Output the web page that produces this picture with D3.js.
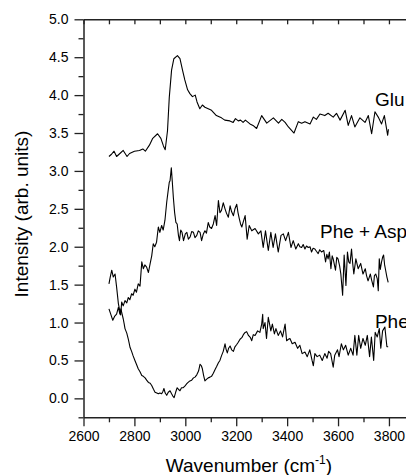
<!DOCTYPE html>
<html><head><meta charset="utf-8">
<script src="https://cdn.jsdelivr.net/npm/d3@7"></script>
<style>
html,body{margin:0;padding:0;background:#fff;overflow:hidden}
text{font-family:"Liberation Sans",Arial,Helvetica,sans-serif;fill:#000}
</style></head>
<body><svg id="c" width="406" height="475"></svg>
<script>
const xMajorTicks=[2600,2800,3000,3200,3400,3600,3800];
const xMinorTicks=[2700,2900,3100,3300,3500,3700,3900];
const yMajorTicks=[0,0.5,1,1.5,2,2.5,3,3.5,4,4.5,5];
const yMinorTicks=[-0.25,0.25,0.75,1.25,1.75,2.25,2.75,3.25,3.75,4.25,4.75];

const glu=[[2700,3.19],[2710,3.22],[2720,3.26],[2730,3.19],[2743,3.23],[2756,3.27],[2771,3.19],[2781,3.23],[2800,3.26],[2820,3.27],[2833,3.29],[2843,3.26],[2859,3.34],[2872,3.43],[2891,3.49],[2904,3.43],[2914,3.33],[2921,3.28],[2930,3.53],[2937,3.97],[2946,4.33],[2955,4.48],[2969,4.52],[2979,4.48],[2989,4.33],[2998,4.20],[3009,4.07],[3018,4.02],[3028,3.98],[3039,4.00],[3046,3.91],[3057,3.82],[3067,3.87],[3077,3.84],[3090,3.82],[3103,3.80],[3122,3.73],[3142,3.70],[3155,3.67],[3175,3.66],[3188,3.64],[3197,3.69],[3208,3.66],[3217,3.67],[3227,3.64],[3236,3.67],[3254,3.62],[3266,3.60],[3280,3.56],[3300,3.73],[3320,3.63],[3346,3.70],[3366,3.63],[3379,3.68],[3392,3.64],[3405,3.58],[3427,3.50],[3444,3.65],[3457,3.63],[3470,3.65],[3490,3.62],[3503,3.71],[3515,3.68],[3529,3.75],[3548,3.73],[3561,3.76],[3581,3.71],[3594,3.76],[3608,3.67],[3628,3.80],[3640,3.60],[3653,3.73],[3666,3.58],[3686,3.70],[3706,3.64],[3719,3.73],[3732,3.49],[3745,3.78],[3758,3.71],[3771,3.62],[3782,3.73],[3795,3.47],[3798,3.55]];

const pheAsp=[[2700,1.51],[2705,1.60],[2711,1.69],[2717,1.60],[2724,1.64],[2730,1.47],[2737,1.25],[2741,1.18],[2746,1.10],[2750,1.27],[2756,1.22],[2763,1.29],[2770,1.26],[2776,1.33],[2782,1.30],[2789,1.38],[2795,1.36],[2802,1.44],[2808,1.40],[2815,1.51],[2822,1.48],[2829,1.80],[2835,1.71],[2841,1.76],[2848,1.73],[2855,1.66],[2862,1.78],[2868,1.88],[2874,2.04],[2880,2.00],[2887,2.06],[2894,2.26],[2900,2.19],[2907,2.28],[2913,2.22],[2920,2.35],[2927,2.59],[2933,2.75],[2937,2.85],[2940,2.87],[2945,3.04],[2949,2.85],[2953,2.65],[2958,2.45],[2963,2.32],[2968,2.30],[2973,2.15],[2977,2.08],[2982,2.22],[2987,2.19],[2993,2.08],[3000,2.17],[3006,2.19],[3012,2.10],[3019,2.13],[3025,2.20],[3032,2.19],[3038,2.12],[3045,2.15],[3051,2.21],[3058,2.19],[3064,2.08],[3070,2.16],[3077,2.21],[3083,2.18],[3090,2.32],[3096,2.26],[3103,2.24],[3110,2.30],[3117,2.41],[3123,2.28],[3130,2.61],[3136,2.45],[3142,2.48],[3149,2.58],[3156,2.50],[3162,2.44],[3169,2.39],[3176,2.54],[3182,2.46],[3189,2.41],[3195,2.50],[3202,2.56],[3207,2.45],[3212,2.37],[3217,2.30],[3222,2.26],[3228,2.33],[3235,2.41],[3243,2.10],[3251,2.28],[3261,2.21],[3274,2.24],[3287,2.17],[3297,2.21],[3306,1.99],[3315,2.21],[3326,1.95],[3336,2.19],[3345,1.99],[3354,2.17],[3365,1.93],[3376,2.15],[3385,2.17],[3394,2.08],[3405,2.19],[3415,1.99],[3424,2.08],[3434,1.97],[3444,2.04],[3450,2.00],[3457,1.99],[3463,2.03],[3470,1.97],[3476,2.01],[3483,1.99],[3490,2.00],[3496,1.93],[3502,1.98],[3509,1.97],[3515,1.94],[3522,1.91],[3528,1.96],[3535,1.93],[3544,1.95],[3551,1.80],[3556,1.90],[3561,1.84],[3566,1.93],[3572,1.71],[3577,1.88],[3581,1.84],[3590,1.69],[3595,1.86],[3600,1.84],[3606,1.75],[3611,1.64],[3618,1.36],[3624,1.89],[3631,1.49],[3637,1.93],[3642,1.80],[3647,1.78],[3653,1.97],[3657,1.80],[3662,1.64],[3670,1.84],[3679,1.71],[3689,1.78],[3698,1.64],[3707,1.71],[3712,1.62],[3718,1.55],[3727,1.64],[3732,1.56],[3739,1.47],[3743,1.62],[3748,1.64],[3754,1.58],[3758,1.42],[3762,1.84],[3766,1.70],[3771,1.80],[3775,1.86],[3779,1.89],[3783,1.76],[3787,1.69],[3792,1.60],[3797,1.53]];

const phe=[[2700,1.18],[2707,1.11],[2715,1.03],[2722,1.08],[2730,1.11],[2737,1.20],[2743,1.11],[2747,1.18],[2751,1.12],[2756,1.05],[2760,0.98],[2763,0.92],[2770,0.86],[2776,0.78],[2780,0.72],[2783,0.67],[2789,0.62],[2795,0.56],[2802,0.50],[2808,0.45],[2815,0.39],[2822,0.35],[2829,0.30],[2835,0.29],[2842,0.27],[2848,0.24],[2855,0.21],[2862,0.20],[2868,0.17],[2875,0.12],[2881,0.08],[2888,0.07],[2894,0.06],[2900,0.07],[2907,0.06],[2912,0.09],[2916,0.13],[2921,0.07],[2927,0.04],[2933,0.08],[2940,0.10],[2946,0.06],[2951,0.03],[2956,0.01],[2962,0.08],[2968,0.14],[2973,0.12],[2979,0.10],[2985,0.14],[2992,0.14],[2998,0.16],[3005,0.19],[3011,0.21],[3018,0.23],[3025,0.24],[3032,0.27],[3038,0.28],[3045,0.31],[3052,0.36],[3058,0.45],[3063,0.43],[3067,0.39],[3072,0.30],[3077,0.23],[3083,0.25],[3090,0.27],[3097,0.28],[3103,0.29],[3110,0.33],[3117,0.38],[3123,0.42],[3130,0.47],[3136,0.50],[3142,0.56],[3149,0.62],[3156,0.72],[3160,0.65],[3165,0.60],[3170,0.66],[3176,0.69],[3182,0.64],[3189,0.62],[3195,0.68],[3202,0.71],[3208,0.74],[3215,0.78],[3222,0.80],[3228,0.84],[3235,0.87],[3241,0.88],[3248,0.83],[3256,0.80],[3261,0.76],[3267,0.84],[3274,0.83],[3284,0.89],[3293,0.87],[3300,0.98],[3304,1.11],[3306,0.92],[3313,1.00],[3319,0.79],[3326,1.07],[3336,0.89],[3342,0.98],[3350,0.85],[3356,0.92],[3365,0.83],[3374,0.89],[3382,0.81],[3392,0.98],[3398,0.76],[3405,0.78],[3411,0.79],[3420,0.72],[3431,0.74],[3441,0.66],[3450,0.70],[3459,0.59],[3470,0.61],[3479,0.55],[3489,0.64],[3498,0.50],[3503,0.43],[3509,0.59],[3518,0.55],[3528,0.57],[3538,0.50],[3548,0.59],[3557,0.53],[3563,0.62],[3571,0.59],[3581,0.41],[3587,0.57],[3598,0.64],[3604,0.55],[3613,0.72],[3621,0.64],[3630,0.70],[3640,0.57],[3650,0.66],[3659,0.57],[3666,0.83],[3674,0.57],[3681,0.83],[3689,0.66],[3698,0.79],[3707,0.70],[3715,0.83],[3724,0.55],[3731,0.81],[3740,0.50],[3746,0.87],[3754,0.81],[3762,0.92],[3768,0.66],[3775,0.89],[3784,0.94],[3792,0.68],[3797,0.68]];

const seriesNames=["Glu","Phe + Asp","Phe"];
const seriesLabelAt=[[3745,3.86],[3529,2.12],[3745,0.93]];

const svg=d3.select("#c");
const L=83.5,T=19.3,B=417.3,R=414.4;
const x=d3.scaleLinear().domain([2600,3900]).range([L,R]);
const y=d3.scaleLinear().domain([-0.25,5]).range([B,T]);
const axisColor="#222";

function style(g){g.selectAll("path,line").attr("stroke",axisColor).attr("stroke-width",1.3);g.select(".domain").attr("stroke-width",1.5);}

// bottom axis
const gb=svg.append("g").attr("transform",`translate(0,${B})`);
gb.call(d3.axisBottom(x).tickValues(xMajorTicks).tickSize(9).tickSizeOuter(0).tickPadding(5).tickFormat(d3.format("d")));
gb.selectAll("text").attr("font-size",14);
style(gb);
const gbm=svg.append("g").attr("transform",`translate(0,${B})`);
gbm.call(d3.axisBottom(x).tickValues(xMinorTicks).tickSize(5).tickSizeOuter(0).tickFormat(""));
gbm.select(".domain").remove();style(gbm);

// top axis (inward ticks)
const gt=svg.append("g").attr("transform",`translate(0,${T})`);
gt.call(d3.axisTop(x).tickValues(xMajorTicks.concat(xMinorTicks)).tickSize(-5).tickSizeOuter(0).tickFormat(""));
style(gt);

// left axis
const gl=svg.append("g").attr("transform",`translate(${L},0)`);
gl.call(d3.axisLeft(y).tickValues(yMajorTicks).tickSize(9).tickSizeOuter(0).tickPadding(6).tickFormat(d3.format(".1f")));
gl.selectAll("text").attr("font-size",14);
style(gl);
const glm=svg.append("g").attr("transform",`translate(${L},0)`);
glm.call(d3.axisLeft(y).tickValues(yMinorTicks).tickSize(5).tickSizeOuter(0).tickFormat(""));
glm.select(".domain").remove();style(glm);

// lines
const line=d3.line().x(d=>x(d[0])).y(d=>y(d[1]));
[glu,pheAsp,phe].forEach(s=>{
  svg.append("path").datum(s).attr("d",line).attr("fill","none").attr("stroke","#000").attr("stroke-width",1.1).attr("stroke-linejoin","round");
});

// series labels
seriesNames.forEach((n,i)=>{
  svg.append("text").attr("x",x(seriesLabelAt[i][0])).attr("y",y(seriesLabelAt[i][1])).attr("font-size",19).text(n);
});

// axis titles
const xt=svg.append("text").attr("x",(L+R)/2).attr("y",472).attr("text-anchor","middle").attr("font-size",19);
xt.append("tspan").text("Wavenumber (cm");
xt.append("tspan").attr("font-size",12).attr("dy",-8).text("-1");
xt.append("tspan").attr("dy",8).text(")");

svg.append("text").attr("transform",`translate(28,214) rotate(-90)`).attr("text-anchor","middle").attr("font-size",19).text("Intensity (arb. units)");
</script></body></html>
